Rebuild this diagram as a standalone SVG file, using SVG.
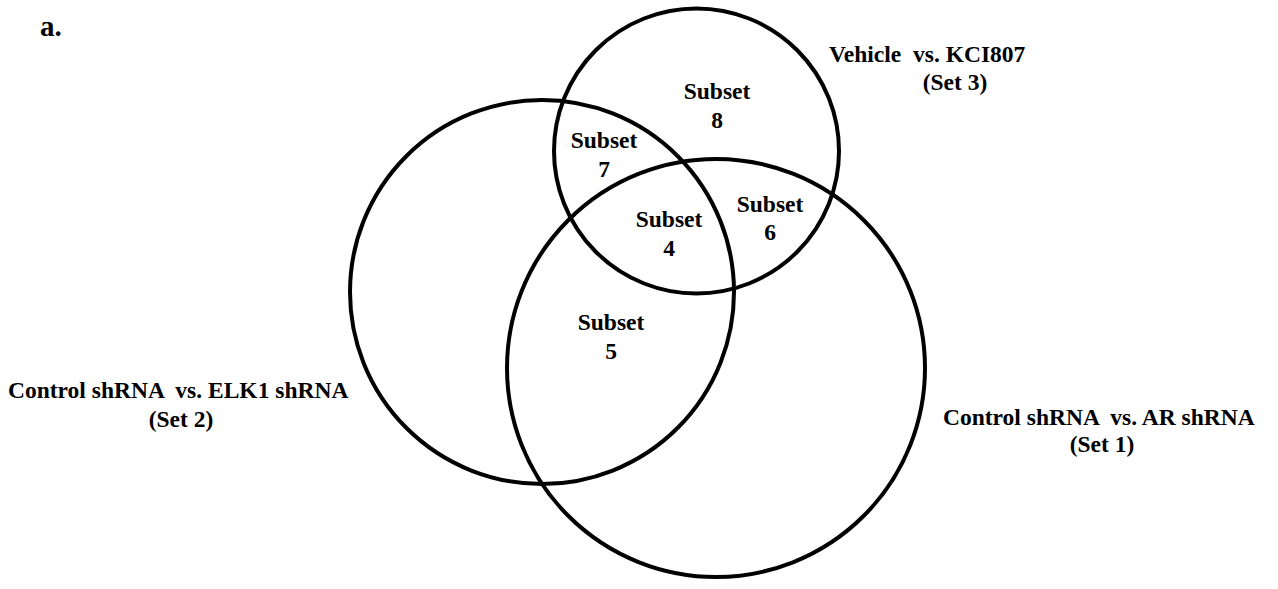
<svg xmlns="http://www.w3.org/2000/svg" width="1278" height="589" viewBox="0 0 1278 589">
<style>
.c{fill:none;stroke:#000;stroke-width:4}
text{font-family:"Liberation Serif","Times New Roman",serif;font-weight:bold;font-size:23.5px;fill:#000}
.m{text-anchor:middle}
.h{font-size:29px}
</style>
<rect width="1278" height="589" fill="#fff"/>
<text class="h" x="40" y="36">a.</text>
<g id="set1"><circle class="c" cx="716" cy="368" r="209"/>
<text x="943" y="425" xml:space="preserve">Control shRNA  vs. AR shRNA</text>
<text class="m" x="1102" y="452">(Set 1)</text></g>
<g id="set2"><circle class="c" cx="542" cy="292" r="192"/>
<text x="8" y="398" xml:space="preserve">Control shRNA  vs. ELK1 shRNA</text>
<text class="m" x="181" y="427">(Set 2)</text></g>
<g id="set3"><circle class="c" cx="696.5" cy="151" r="142.5"/>
<text x="829" y="62" xml:space="preserve">Vehicle  vs. KCI807</text>
<text class="m" x="955" y="90">(Set 3)</text></g>
<g id="subset8"><text class="m" x="717" y="99">Subset</text><text class="m" x="717" y="128">8</text></g>
<g id="subset7"><text class="m" x="604" y="148">Subset</text><text class="m" x="604" y="177">7</text></g>
<g id="subset6"><text class="m" x="770" y="212">Subset</text><text class="m" x="770" y="240">6</text></g>
<g id="subset4"><text class="m" x="669" y="227">Subset</text><text class="m" x="669" y="256">4</text></g>
<g id="subset5"><text class="m" x="611" y="330">Subset</text><text class="m" x="611" y="359">5</text></g>
<g id="connectors"></g>
</svg>
